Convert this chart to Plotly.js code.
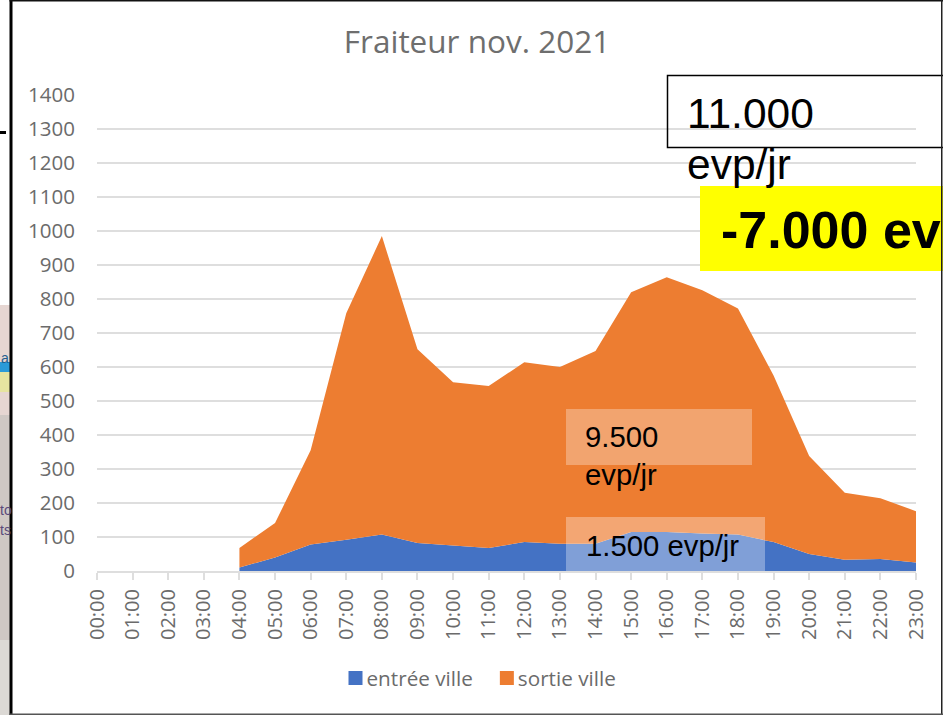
<!DOCTYPE html>
<html><head><meta charset="utf-8">
<script src="https://cdn.plot.ly/plotly-3.0.0.min.js"></script>
<style>html,body{margin:0;padding:0;background:#fff;overflow:hidden}</style>
</head><body><div id="c" style="width:943px;height:715px"></div>
<script>
const hours = ["00:00","01:00","02:00","03:00","04:00","05:00","06:00","07:00","08:00","09:00","10:00","11:00","12:00","13:00","14:00","15:00","16:00","17:00","18:00","19:00","20:00","21:00","22:00","23:00"];
const activeHours = hours.slice(4);
const entreeVille = [10,40,78,92,107,82,75,68,85,80,80,115,115,110,107,85,50,33,35,25];
const sortieVille = [58,101,277,666,878,570,480,476,529,520,567,705,749,716,665,490,288,197,179,151];
const yTicks = [0,100,200,300,400,500,600,700,800,900,1000,1100,1200,1300,1400];
const BLUE = "#4472c4", ORANGE = "#ed7d31", GREY = "#6b6b6b", GRID = "#dedede", FONT = "'Open Sans','Noto Sans',sans-serif", ARIAL = "'Liberation Sans',Arial,sans-serif";

const L = 97, R = 916, T = 95, B = 571;
const px = x => (x - L) / (R - L), py = y => (B - y) / (B - T);
const rect = (x0, y0, x1, y1, fill, line) => ({type:"rect", xref:"paper", yref:"paper", x0:px(x0), x1:px(x1), y0:py(y0), y1:py(y1), fillcolor:fill, line: line || {width:0}});
const note = (x, y, text, size, bold, color) => ({xref:"paper", yref:"paper", x:px(x), y:py(y), xanchor:"left", yanchor:"top", align:"left", showarrow:false, borderpad:0, text: bold ? "<b>"+text+"</b>" : text, font:{family:ARIAL, size:size, color:color || "#000"}});

const traces = [
  {name:"entrée ville", x:activeHours, y:entreeVille, type:"scatter", mode:"none", stackgroup:"a", fillcolor:BLUE, showlegend:false},
  {name:"sortie ville", x:activeHours, y:sortieVille, type:"scatter", mode:"none", stackgroup:"a", fillcolor:ORANGE, showlegend:false},
  {name:"entrée ville", x:[null], y:[null], type:"scatter", mode:"markers", marker:{symbol:"square", size:14, color:BLUE}, hoverinfo:"skip"},
  {name:"sortie ville", x:[null], y:[null], type:"scatter", mode:"markers", marker:{symbol:"square", size:14, color:ORANGE}, hoverinfo:"skip"}
];

const layout = {
  width:943, height:715, margin:{l:L, r:943-R, t:T, b:715-B},
  paper_bgcolor:"#fff", plot_bgcolor:"#fff", showlegend:true,
  title:{text:"Fraiteur nov. 2021", font:{family:FONT, size:31.5, color:"#6e6e6e"}, x:477/943, xanchor:"center", y:1-42/715, yanchor:"middle"},
  font:{family:FONT, color:GREY},
  xaxis:{type:"category", categoryorder:"array", categoryarray:hours, range:[0,23], tickvals:hours, ticktext:hours, tickangle:-90,
    tickfont:{family:FONT, size:20, color:GREY}, ticks:"outside", ticklen:7, tickwidth:2, tickcolor:GRID,
    showline:true, linecolor:GRID, linewidth:2, showgrid:false, zeroline:false, fixedrange:true, ticklabelstandoff:1},
  yaxis:{range:[0,1400], tickvals:yTicks, tickfont:{family:FONT, size:20.5, color:GREY}, showgrid:true, gridcolor:GRID, gridwidth:2.5,
    zeroline:false, showline:false, ticks:"", ticklabelstandoff:21, fixedrange:true},
  legend:{orientation:"h", traceorder:"normal", x:px(474), xanchor:"center", y:py(678), yanchor:"middle", font:{family:FONT, size:20.7, color:GREY}, itemwidth:30, tracegroupgap:0, bgcolor:"rgba(0,0,0,0)"},
  shapes:[
    rect(0,305,10,415,"#e6d6d2"),
    rect(0,415,10,640,"#cfc8c4"),
    rect(0,640,10,715,"#dcd9d5"),
    rect(0,362,10,372,"#2a9ad8"),
    rect(0,372,10,392,"#e6e4a0"),
    rect(0,131,6,134,"#000"),
    rect(667.5,75.5,945,147.5,"rgba(0,0,0,0)",{color:"#000",width:1.5}),
    rect(700,186,945,271,"#ffff00"),
    rect(566,409,752,465,"rgba(255,255,255,0.3)"),
    rect(566,517,765,571,"rgba(255,255,255,0.32)"),
    rect(9.5,0,12.5,715,"#000"),
    rect(9.5,0,943,1.5,"#111"),
    rect(941,0,942.5,715,"#222"),
    rect(9.5,713.5,943,715,"#555")
  ],
  annotations:[
    note(686,89,"11.000",42.5),
    note(686,140,"evp/jr",42.5),
    note(720,200,"-7.000 ev",52,true),
    note(584,419,"9.500<br>evp/jr",29.3),
    note(585,528,"1.500 evp/jr",29.3),
    note(0,349,"a",14,false,"#1f5f8f"),
    note(-1,501,"to",14,false,"#5a4a7a"),
    note(-1,521,"ts",14,false,"#5a4a7a")
  ]
};
Plotly.newPlot("c", traces, layout, {staticPlot:true, displayModeBar:false}).then(() => {
  document.querySelectorAll("#c .legend .legendsymbols").forEach(g => g.setAttribute("transform", "translate(9,0)"));
});
</script></body></html>
